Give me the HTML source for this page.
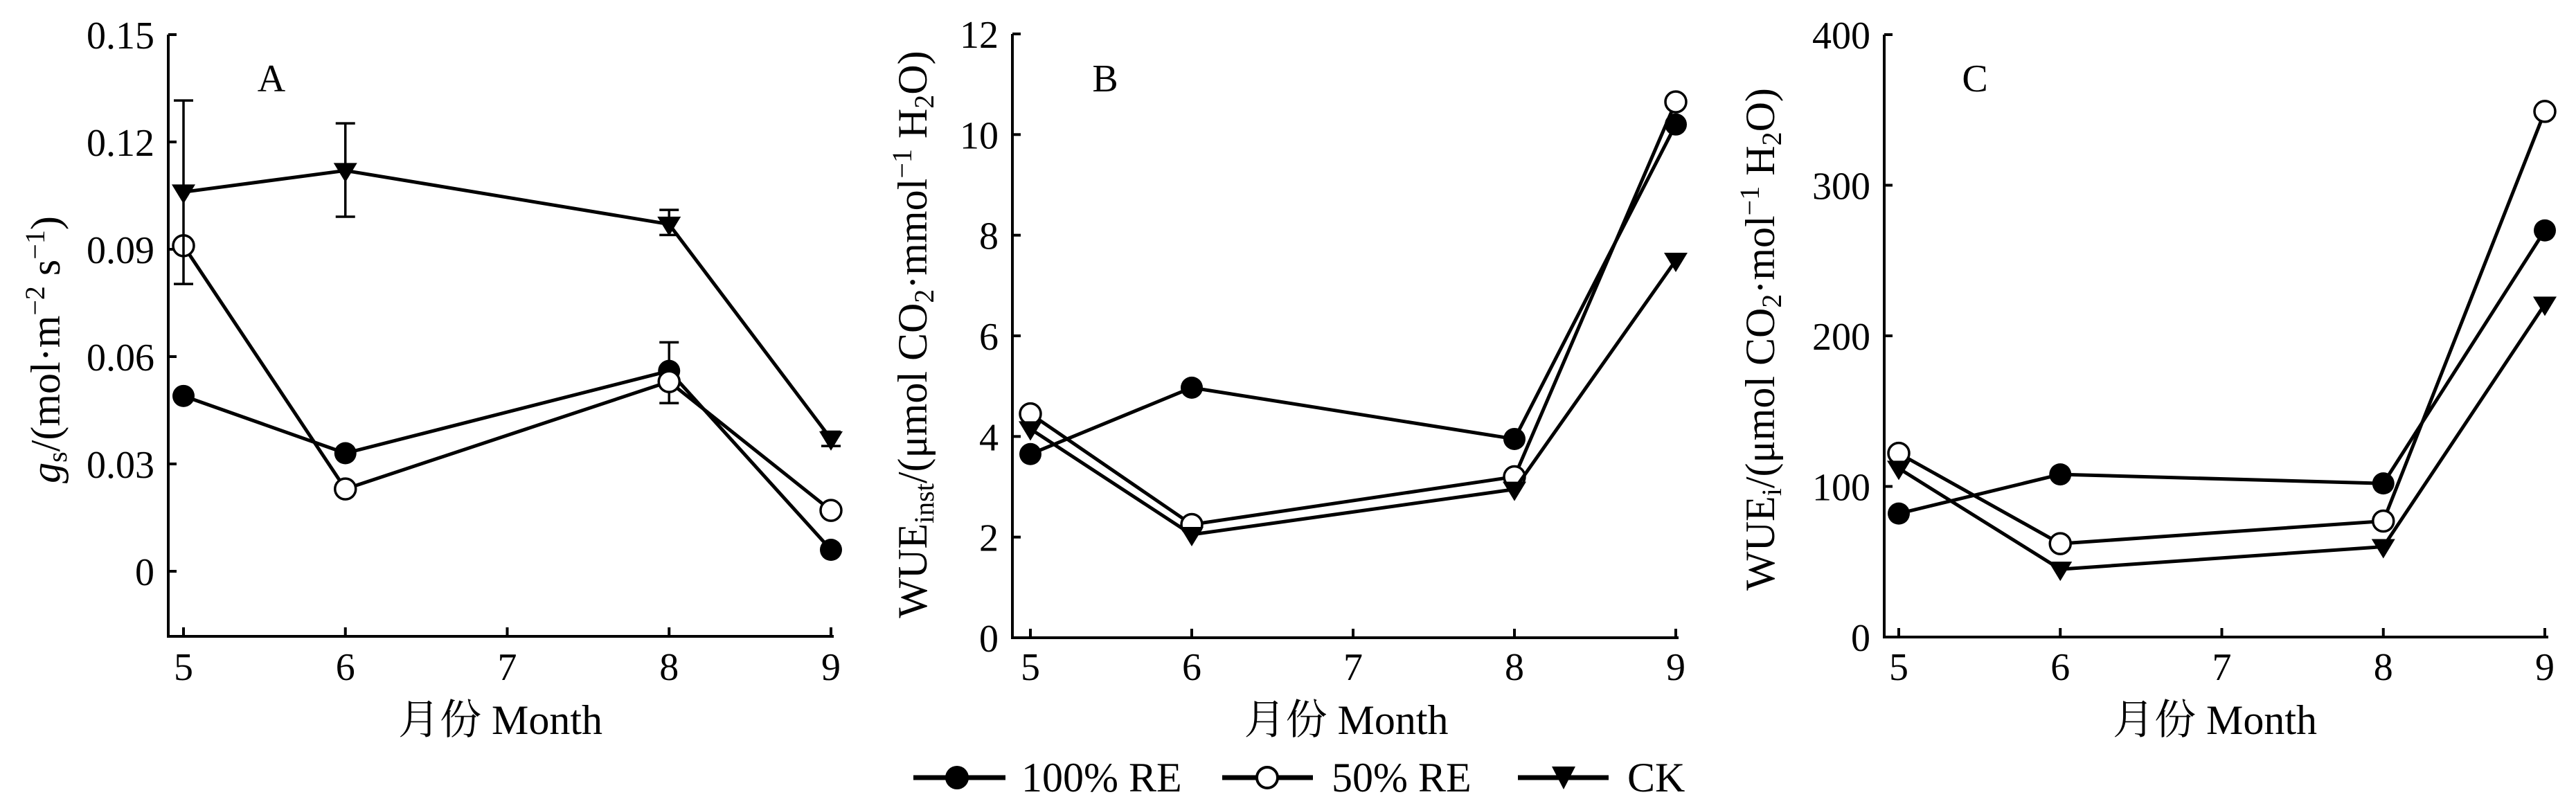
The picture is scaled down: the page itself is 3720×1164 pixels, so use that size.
<!DOCTYPE html>
<html><head><meta charset="utf-8"><style>
html,body{margin:0;padding:0;background:#fff;}
svg{display:block;font-family:"Liberation Serif","Noto Serif CJK SC",serif;}
</style></head><body>
<svg id="fig" width="3720" height="1164" viewBox="0 0 3720 1164" xmlns="http://www.w3.org/2000/svg">
<rect width="3720" height="1164" fill="#fff"/>
<g id="panels"></g>
<g>
  <g>
    <line x1="1319" y1="1123" x2="1452" y2="1123" stroke="#000" stroke-width="7"/>
    <circle cx="1382" cy="1123" r="17" fill="#000"/>
    <text x="1475" y="1143" font-size="60">100% RE</text>
  </g>
  <g>
    <line x1="1765" y1="1123" x2="1896" y2="1123" stroke="#000" stroke-width="7"/>
    <circle cx="1830" cy="1123" r="15" fill="#fff" stroke="#000" stroke-width="4"/>
    <text x="1923" y="1143" font-size="60">50% RE</text>
  </g>
  <g>
    <line x1="2192" y1="1123" x2="2323" y2="1123" stroke="#000" stroke-width="7"/>
    <polygon points="2241,1107 2275,1107 2258,1140" fill="#000"/>
    <text x="2350" y="1143" font-size="60">CK</text>
  </g>
</g>
</svg>
<script>
const months = [5, 6, 8, 9];
// Panel A: gs
const aTicks = [0, 0.03, 0.06, 0.09, 0.12, 0.15];
const aTickLabels = ["0", "0.03", "0.06", "0.09", "0.12", "0.15"];
const a100 = [0.049, 0.033, 0.056, 0.006];
const a50 = [0.091, 0.023, 0.053, 0.017];
const aCK = [0.106, 0.112, 0.097, 0.037];
const a100ErrHi = [null, null, 0.064, null];
const a100ErrLo = [null, null, 0.056, null];
const a50ErrHi = [null, null, 0.053, null];
const a50ErrLo = [null, null, 0.047, null];
const aCKErrHi = [0.1316, 0.1252, 0.101, 0.039];
const aCKErrLo = [0.0803, 0.0991, 0.094, 0.035];
// Panel B: WUEinst
const bTicks = [0, 2, 4, 6, 8, 10, 12];
const bTickLabels = ["0", "2", "4", "6", "8", "10", "12"];
const b100 = [3.65, 4.97, 3.95, 10.2];
const b50 = [4.45, 2.25, 3.2, 10.65];
const bCK = [4.15, 2.05, 2.95, 7.5];
// Panel C: WUEi
const cTicks = [0, 100, 200, 300, 400];
const cTickLabels = ["0", "100", "200", "300", "400"];
const c100 = [82, 108, 102, 270];
const c50 = [122, 62, 77, 349];
const cCK = [112, 45, 60, 221];
const xTicks = [5, 6, 7, 8, 9];

const NS = "http://www.w3.org/2000/svg";
const root = document.getElementById('panels');
function mk(tag, attrs, parent) {
  const e = document.createElementNS(NS, tag);
  for (const k in attrs) e.setAttribute(k, attrs[k]);
  parent.appendChild(e);
  return e;
}

function panel(cfg) {
  const g = mk('g', {}, root);
  
  
  const xs = v => cfg.x5 + (v - 5) * (cfg.x9 - cfg.x5) / 4;
  const ys = v => cfg.y0 + (v - cfg.dmin) * (cfg.ytop - cfg.y0) / (cfg.dmax - cfg.dmin);
  const axis = mk('path', {d: `M${cfg.ax},${cfg.ytop} L${cfg.ax},${cfg.axB} L${cfg.axR},${cfg.axB}`, fill: 'none', stroke: '#000', 'stroke-width': 4}, g);
  
  
  cfg.ticks.forEach((t, i) => {
    const y = ys(t);
    mk('line', {x1: cfg.ax, x2: cfg.ax + 12, y1: y, y2: y, stroke: '#000', 'stroke-width': 4}, g);
    const tx = mk('text', {x: cfg.ax - 20, y: y + 20, 'font-size': 56, 'text-anchor': 'end'}, g);
    tx.textContent = cfg.tickLabels[i];
    
    
  });
  xTicks.forEach(m => {
    const x = xs(m);
    mk('line', {x1: x, x2: x, y1: cfg.axB, y2: cfg.axB - 13, stroke: '#000', 'stroke-width': 4}, g);
    const tx = mk('text', {x: x, y: 982, 'font-size': 56, 'text-anchor': 'middle'}, g);
    tx.textContent = String(m);
    
    
  });
  const xt = mk('text', {x: (cfg.x5 + cfg.x9) / 2 - 10, y: 1060, 'font-size': 60, 'text-anchor': 'middle'}, g);
  xt.textContent = '月份 Month';
  
  
  const yt = mk('text', {x: 0, y: 0, 'font-size': 60, 'text-anchor': 'middle', transform: `translate(${cfg.ytx},${cfg.yty}) rotate(-90)`}, g);
  yt.innerHTML = cfg.ytitle;
  
  
  const lb = mk('text', {x: cfg.lblx, y: 132, 'font-size': 56, 'text-anchor': 'middle'}, g);
  lb.textContent = cfg.id.toUpperCase();
  
  

  cfg.series.forEach(s => {
    const sg = mk('g', {}, g);
    
    
    const pts = s.vals.map((v, i) => xs(months[i]) + ',' + ys(v)).join(' ');
    const pl = mk('polyline', {points: pts, fill: 'none', stroke: '#000', 'stroke-width': 5, 'stroke-linejoin': 'round'}, sg);
    
    
    if (s.hi) s.hi.forEach((h, i) => {
      if (h === null) return;
      const x = xs(months[i]);
      const e = mk('path', {d: `M${x},${ys(h)} L${x},${ys(s.lo[i])} M${x-14},${ys(h)} L${x+14},${ys(h)} M${x-14},${ys(s.lo[i])} L${x+14},${ys(s.lo[i])}`, stroke: '#000', 'stroke-width': 3.5, fill: 'none'}, sg);
      
      
    });
    s.vals.forEach((v, i) => {
      const x = xs(months[i]), y = ys(v);
      let m;
      if (s.marker === 'fill') m = mk('circle', {cx: x, cy: y, r: 16, fill: '#000'}, sg);
      else if (s.marker === 'open') m = mk('circle', {cx: x, cy: y, r: 15, fill: '#fff', stroke: '#000', 'stroke-width': 3.5}, sg);
      else m = mk('polygon', {points: `${x-17},${y-11} ${x+17},${y-11} ${x},${y+17}`, fill: '#000'}, sg);
      
      
    });
  });
}

panel({id: 'a', ax: 243, axR: 1204, axB: 919, ytop: 50, y0: 825, dmin: 0, dmax: 0.15,
  x5: 265, x9: 1200, ticks: aTicks, tickLabels: aTickLabels, ytx: 86, yty: 505, lblx: 392,
  ytitle: '<tspan font-style="italic">g</tspan><tspan font-size="40" dy="10">s</tspan><tspan dy="-10">/(mol·m</tspan><tspan font-size="40" dy="-22">−2</tspan><tspan dy="22"> s</tspan><tspan font-size="40" dy="-22">−1</tspan><tspan dy="22">)</tspan>',
  series: [
    {name: '100-re', vals: a100, marker: 'fill', hi: a100ErrHi, lo: a100ErrLo},
    {name: '50-re', vals: a50, marker: 'open', hi: a50ErrHi, lo: a50ErrLo},
    {name: 'ck', vals: aCK, marker: 'tri', hi: aCKErrHi, lo: aCKErrLo}]});
panel({id: 'b', ax: 1462, axR: 2424, axB: 921, ytop: 49, y0: 921, dmin: 0, dmax: 12,
  x5: 1488, x9: 2420, ticks: bTicks, tickLabels: bTickLabels, ytx: 1338, yty: 483, lblx: 1596,
  ytitle: 'WUE<tspan font-size="40" dy="10">inst</tspan><tspan dy="-10">/(μmol CO</tspan><tspan font-size="40" dy="10">2</tspan><tspan dy="-10">·mmol</tspan><tspan font-size="40" dy="-22">−1</tspan><tspan dy="22"> H</tspan><tspan font-size="40" dy="10">2</tspan><tspan dy="-10">O)</tspan>',
  series: [
    {name: '100-re', vals: b100, marker: 'fill'},
    {name: '50-re', vals: b50, marker: 'open'},
    {name: 'ck', vals: bCK, marker: 'tri'}]});
panel({id: 'c', ax: 2721, axR: 3680, axB: 920, ytop: 50, y0: 920, dmin: 0, dmax: 400,
  x5: 2742, x9: 3675, ticks: cTicks, tickLabels: cTickLabels, ytx: 2562, yty: 490, lblx: 2852,
  ytitle: 'WUE<tspan font-size="40" dy="10">i</tspan><tspan dy="-10">/(μmol CO</tspan><tspan font-size="40" dy="10">2</tspan><tspan dy="-10">·mol</tspan><tspan font-size="40" dy="-22">−1</tspan><tspan dy="22"> H</tspan><tspan font-size="40" dy="10">2</tspan><tspan dy="-10">O)</tspan>',
  series: [
    {name: '100-re', vals: c100, marker: 'fill'},
    {name: '50-re', vals: c50, marker: 'open'},
    {name: 'ck', vals: cCK, marker: 'tri'}]});
</script>
</body></html>
